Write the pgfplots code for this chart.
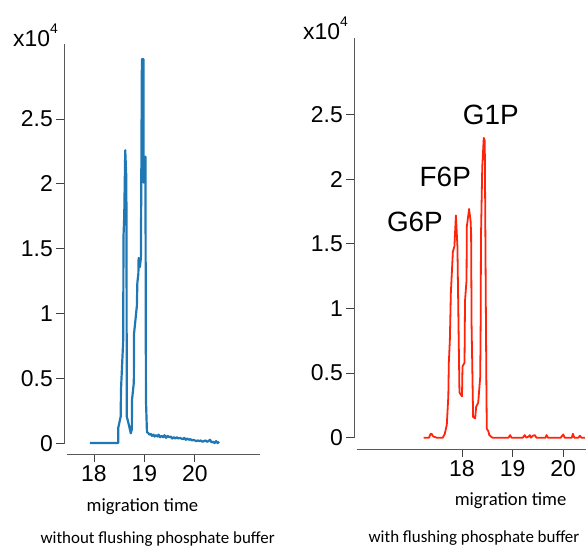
\documentclass[border=0pt]{standalone}
\usepackage{fontspec}
\setmainfont{Liberation Sans}
\newfontfamily\carlito{Carlito}
\usepackage{pgfplots}
\pgfplotsset{compat=1.18}
\definecolor{bl}{RGB}{31,119,180}
\definecolor{rd}{RGB}{255,35,10}
\pgfplotsset{
  rstyle/.style={
    scale only axis,
    axis lines=left,
    axis line style={-, black!65, line width=0.8pt},
    tick style={black!75, line width=0.8pt},
    tick align=outside,
    major tick length=8bp,
    xtick={18,19,20},
    ytick={0,0.5,1,1.5,2,2.5},
    yticklabels={0,0.5,1,1.5,2,2.5},
    xticklabels={18,19,20},
    ymin=0,
    tick label style={font=\fontsize{23}{23}\selectfont},
    /pgf/number format/assume math mode=true,
    clip=false,
    xlabel={migration time},
    xlabel style={font=\carlito\fontsize{18.7}{20}\selectfont, anchor=base, inner sep=0pt},
  }
}
\begin{document}
\begin{tikzpicture}
\useasboundingbox (0,0) rectangle (586bp,547bp);
% ---------------- left panel ----------------
\begin{axis}[rstyle,
  at={(66.7bp,103.3bp)}, anchor=south west,
  width=193.3bp, height=400.1bp,
  xmin=17.46, xmax=21.29, ymax=3.08,
  axis x line shift=10.6bp, axis y line shift=2.4bp,
  xlabel style={at={(axis description cs:0.392,0)}, yshift=-68bp},
]
\addplot[bl, line width=2.2pt, line join=round] coordinates {
(17.92,0.005) (18.48,0.005) (18.48,0.12) (18.53,0.21) (18.535,0.41)
(18.58,0.80) (18.585,1.59) (18.60,1.75) (18.62,2.26) (18.64,2.06)
(18.645,1.72) (18.65,0.21) (18.67,0.18) (18.73,0.08) (18.75,0.11) (18.755,0.34)
(18.79,0.47) (18.795,0.85) (18.85,1.06) (18.86,1.24) (18.88,1.31)
(18.885,1.43) (18.91,1.36) (18.93,1.43) (18.95,2.96) (18.98,2.96)
(18.985,2.01) (19.02,2.21) (19.03,0.34) (19.05,0.09) (19.08,0.08)
(19.10,0.07) (19.13,0.075) (19.15,0.06) (19.18,0.07) (19.20,0.055)
(19.23,0.065) (19.26,0.055) (19.28,0.07) (19.31,0.05) (19.34,0.06)
(19.37,0.05) (19.40,0.065) (19.43,0.045) (19.46,0.06) (19.49,0.05)
(19.52,0.055) (19.55,0.04) (19.58,0.05) (19.61,0.04) (19.64,0.05)
(19.67,0.04) (19.70,0.045) (19.73,0.04) (19.76,0.035) (19.79,0.045)
(19.82,0.03) (19.85,0.04) (19.88,0.03) (19.91,0.035) (19.94,0.025)
(19.97,0.03) (20.00,0.025) (20.03,0.02) (20.06,0.025) (20.09,0.02)
(20.12,0.025) (20.15,0.015) (20.18,0.02) (20.21,0.025) (20.24,0.015)
(20.27,0.02) (20.30,0.03) (20.33,0.01) (20.36,0.015) (20.39,0.005)
(20.42,0.02) (20.45,0.005) (20.48,0.015)
};
\end{axis}
% ---------------- right panel ----------------
\begin{axis}[rstyle,
  at={(356.7bp,109.3bp)}, anchor=south west,
  width=229.3bp, height=399.3bp,
  xmin=15.92, xmax=20.45, ymax=3.09,
  axis x line shift=11.2bp, axis y line shift=2.4bp,
  xlabel style={at={(axis description cs:0.671,0)}, yshift=-68bp},
]
\addplot[rd, line width=1.8pt, line join=round] coordinates {
(17.24,0) (17.35,0) (17.38,0.03) (17.40,0.03) (17.43,0.01) (17.50,0)
(17.62,0) (17.66,0.03) (17.70,0.10) (17.73,0.32) (17.74,0.58)
(17.76,0.75) (17.78,1.12) (17.82,1.44) (17.85,1.48) (17.88,1.72)
(17.91,1.48) (17.93,0.91) (17.95,0.35) (18.00,0.32) (18.01,0.55)
(18.05,0.58) (18.06,1.06) (18.09,1.22) (18.095,1.63) (18.14,1.77)
(18.17,1.68) (18.18,1.58) (18.19,0.86) (18.22,0.16) (18.26,0.15)
(18.28,0.24) (18.32,0.27) (18.36,0.47) (18.37,0.93) (18.375,1.55)
(18.40,2.09) (18.43,2.32) (18.45,2.30) (18.48,0.50) (18.49,0.07)
(18.52,0.05) (18.54,0.02) (18.60,0) (18.92,0) (18.95,0.02) (18.98,0)
(19.20,0) (19.24,0.02) (19.27,0) (19.32,0.01) (19.34,0.02) (19.36,0)
(19.40,0.015) (19.44,0.02) (19.47,0) (19.65,0) (19.67,0.02) (19.70,0)
(19.95,0) (20.00,0.025) (20.03,0) (20.17,0) (20.19,0.03) (20.22,0)
(20.30,0) (20.33,0.015) (20.36,0) (20.43,0)
};
\node[font=\fontsize{28}{28}\selectfont] at (axis cs:17.07,1.668) {G6P};
\node[font=\fontsize{28}{28}\selectfont] at (axis cs:17.67,2.02) {F6P};
\node[font=\fontsize{28}{28}\selectfont] at (axis cs:18.57,2.50) {G1P};
\end{axis}
% ---------------- scale factors and captions ----------------
\node[anchor=base west, inner sep=0pt, font=\fontsize{23}{23}\selectfont] at (13bp,500.3bp) {x10\raisebox{13.5bp}{\fontsize{14}{14}\selectfont 4}};
\node[anchor=base west, inner sep=0pt, font=\fontsize{23}{23}\selectfont] at (303bp,507bp) {x10\raisebox{13.5bp}{\fontsize{14}{14}\selectfont 4}};
\node[anchor=base, inner sep=0pt, font=\carlito\fontsize{17}{18}\selectfont] at (157.7bp,4bp) {without flushing phosphate buffer};
\node[anchor=base, inner sep=0pt, font=\carlito\fontsize{17}{18}\selectfont] at (474bp,5bp) {with flushing phosphate buffer};
\end{tikzpicture}
\end{document}
